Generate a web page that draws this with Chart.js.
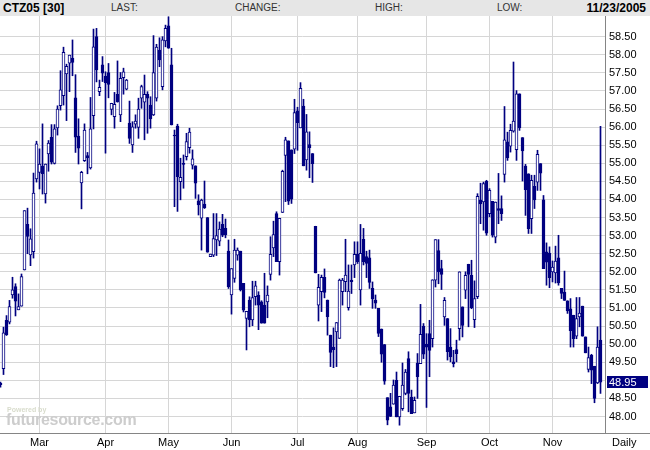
<!DOCTYPE html>
<html><head><meta charset="utf-8">
<script src="https://cdn.jsdelivr.net/npm/chart.js@4/dist/chart.umd.min.js"></script>
<style>
html,body{margin:0;padding:0;background:#fff;}
#wrap{position:relative;width:650px;height:450px;overflow:hidden;font-family:"Liberation Sans",Arial,sans-serif;}
#c{position:absolute;left:0;top:0;}
#hdr{position:absolute;left:0;top:0;width:650px;height:16px;background:#e6e6e6;}
#hdr span{position:absolute;top:0;line-height:16px;white-space:nowrap;}
.lbl{font-size:10px;color:#333;}
.bold{font-size:12px;font-weight:bold;color:#000;}
#daily{position:absolute;left:612px;top:436px;font-size:11px;color:#000;line-height:13px;}
#wm1{position:absolute;left:7px;top:406px;font-size:7px;font-weight:bold;color:#d8dccc;line-height:8px;}
#wm2{position:absolute;left:6px;top:411px;font-size:16px;font-weight:bold;color:#cdcdcd;line-height:18px;letter-spacing:-0.3px;}
</style></head><body>
<div id="wrap">
<canvas id="c" width="650" height="450"></canvas>
<div id="hdr">
<span class="bold" style="left:3px">CTZ05 [30]</span>
<span class="lbl" style="left:111px">LAST:</span>
<span class="lbl" style="left:235px">CHANGE:</span>
<span class="lbl" style="left:375px">HIGH:</span>
<span class="lbl" style="left:497px">LOW:</span>
<span class="bold" style="right:4px">11/23/2005</span>
</div>
<div id="wm1">Powered by</div>
<div id="wm2">futuresource.com</div>
<div id="daily">Daily</div>
</div>
<script>
// Daily OHLC, one entry per trading day (index 0 = Feb 9 2005 ... index 200 = Nov 23 2005)
const openV = [48.92,49.32,50.66,50.61,51.36,51.59,50.95,51.05,52.05,53.31,52.47,52.56,54.57,54.75,54.92,54.15,55.26,55.72,55.00,55.98,
56.59,56.87,57.47,57.77,57.91,56.81,55.75,54.46,55.07,55.21,54.87,56.32,58.50,56.98,57.72,57.41,57.51,56.49,56.29,56.91,
56.34,57.37,57.05,56.11,55.51,56.08,55.99,56.80,56.69,56.91,56.61,56.34,56.80,58.13,57.12,58.38,58.80,57.72,55.78,56.03,
54.49,55.00,55.18,55.43,54.95,54.93,53.96,53.48,53.87,53.50,52.42,52.46,52.88,52.85,53.31,53.20,52.57,51.36,51.82,52.46,
52.57,51.68,50.71,51.22,50.67,51.31,51.36,51.17,51.08,51.17,51.93,52.66,53.61,52.28,53.64,55.22,55.62,55.37,55.39,56.45,
55.98,56.58,55.09,55.52,55.27,53.26,51.08,51.45,51.85,51.22,50.25,49.92,50.34,50.16,51.45,51.73,51.01,51.77,52.19,52.48,
51.50,52.90,52.42,52.39,51.54,51.22,50.99,50.42,49.99,48.52,48.27,48.34,49.00,47.99,48.22,48.64,49.60,48.54,48.10,49.48,
49.46,50.50,50.00,50.29,50.15,51.77,52.59,52.09,50.75,50.71,49.92,49.51,49.85,50.43,51.03,51.49,52.21,51.90,50.68,51.31,
53.98,53.93,54.50,53.61,53.95,52.96,53.75,53.75,54.69,55.59,55.47,55.89,55.38,56.92,55.71,54.92,54.71,53.47,54.36,54.48,
54.99,53.99,52.55,52.52,52.00,51.97,52.39,51.54,51.44,51.20,50.98,50.80,50.22,50.75,51.05,50.20,49.30,49.69,49.39,48.93,
50.11];
const highV = [48.95,50.47,50.79,51.21,51.85,51.67,51.39,51.94,53.69,53.76,53.19,54.73,55.61,55.40,56.09,54.98,55.63,56.07,56.07,56.59,
57.56,58.21,57.74,57.99,58.41,57.45,56.23,54.78,56.09,55.30,56.82,58.71,58.73,57.30,57.95,57.53,57.76,56.66,56.96,57.83,
57.51,57.63,57.32,56.72,56.15,56.34,56.80,57.16,57.44,56.98,56.84,58.53,58.29,58.47,58.50,58.82,59.05,58.18,55.92,56.08,
55.14,55.23,55.83,55.97,55.37,54.93,54.13,54.01,54.51,53.50,52.49,53.61,53.61,53.38,53.59,53.46,52.88,52.09,52.90,52.66,
52.57,51.68,50.91,51.31,51.74,51.74,51.45,51.20,51.96,51.61,52.97,53.40,53.66,53.48,54.81,55.72,55.62,55.37,56.77,56.55,
57.23,56.77,56.35,55.87,55.27,53.26,51.93,51.91,52.08,51.22,50.25,50.45,50.60,51.80,51.82,52.90,52.19,52.19,52.83,52.83,
53.31,53.20,52.57,52.60,51.72,51.36,50.99,50.42,49.99,48.52,48.64,49.01,49.23,48.56,49.48,49.30,49.79,48.73,48.54,49.74,
51.10,50.57,50.29,50.66,51.78,52.89,52.89,52.32,51.29,50.71,50.43,49.83,50.11,52.00,51.03,52.00,52.21,52.32,51.75,54.16,
54.45,54.48,54.53,54.30,53.95,53.93,54.72,54.10,56.57,55.86,56.08,57.80,57.01,56.92,55.71,54.97,54.71,54.67,54.67,55.36,
54.99,54.11,52.80,52.69,52.30,52.71,53.01,51.54,52.02,51.20,51.26,50.80,51.29,51.29,51.05,50.20,49.92,49.72,49.39,50.48,
56.02];
const lowV = [48.81,49.16,50.24,50.56,51.27,50.78,50.95,51.05,52.05,52.50,52.17,52.38,54.48,54.29,54.15,53.90,54.78,54.98,54.98,55.78,
56.47,56.61,56.18,56.98,57.42,55.30,54.98,53.74,55.05,54.71,54.84,55.95,57.25,56.87,57.26,55.28,56.81,56.34,55.97,56.69,
56.15,56.91,57.03,55.55,55.30,55.97,55.69,56.52,55.65,55.83,55.97,56.32,56.72,57.67,57.03,58.22,58.18,56.06,53.80,53.67,
53.99,54.31,55.09,55.28,54.84,54.03,53.57,52.60,53.75,52.54,52.42,52.42,52.45,52.72,52.97,52.94,51.54,50.83,51.71,52.32,
51.47,50.89,49.84,50.48,50.51,51.08,50.40,50.58,50.58,50.73,51.77,52.42,52.28,51.91,53.64,53.94,53.86,53.89,55.27,55.36,
55.98,54.93,54.81,54.60,54.47,51.97,50.64,50.90,51.28,50.25,49.38,49.35,49.38,50.16,51.08,51.45,50.94,51.40,51.84,52.23,
51.08,52.19,51.84,51.54,50.99,50.99,50.21,49.50,48.89,47.77,48.00,48.34,47.99,47.76,48.17,48.60,48.13,48.08,48.10,48.50,
49.46,49.60,48.25,49.10,49.92,51.58,51.67,51.51,50.52,49.56,49.51,49.37,49.51,50.11,50.20,51.26,50.48,50.98,50.46,51.26,
53.33,53.15,53.01,53.52,52.96,52.80,53.33,53.42,54.48,55.08,55.31,55.86,55.08,55.91,54.51,53.56,53.06,53.06,53.75,54.25,
54.25,52.09,51.63,51.56,51.72,51.69,51.63,51.26,51.21,50.85,49.92,49.92,50.15,50.48,50.22,49.76,49.23,48.91,48.38,48.91,
48.64];
const closeV = [48.88,50.31,50.26,51.04,51.50,51.19,51.04,51.87,53.69,52.98,52.91,54.18,55.54,54.98,54.71,54.98,55.56,55.03,55.95,56.50,
57.03,58.07,57.68,57.99,57.79,55.72,55.42,54.75,55.92,55.15,55.95,58.22,57.58,57.10,57.49,57.23,57.18,56.66,56.63,56.70,
57.35,57.53,57.30,55.69,56.01,56.17,56.50,57.12,56.91,56.80,56.23,57.51,58.21,57.86,58.41,58.73,58.18,56.06,55.76,54.63,
54.61,54.97,55.60,55.86,55.12,54.45,53.85,53.98,53.77,52.54,52.49,52.92,53.00,53.18,53.01,53.03,51.59,52.09,52.60,52.60,
51.50,50.94,50.91,50.67,51.29,51.61,51.08,50.58,50.58,51.36,52.48,53.03,52.28,53.48,54.78,55.65,53.95,54.01,56.40,56.12,
57.07,54.93,55.87,55.43,54.99,51.97,51.57,51.85,51.43,50.76,49.77,49.85,50.60,51.77,51.77,51.91,51.47,51.73,52.48,52.28,
52.51,52.28,52.23,51.71,51.25,51.13,50.30,49.72,48.98,47.90,48.00,48.87,47.99,48.56,48.87,49.23,48.64,48.08,48.45,49.10,
50.27,49.72,49.92,49.83,51.78,52.89,52.00,51.93,51.21,49.79,49.65,49.46,49.74,52.00,50.52,51.90,51.93,51.01,51.26,54.09,
53.88,54.44,53.07,54.25,53.01,53.93,53.70,53.61,55.65,55.15,55.91,56.17,56.92,55.98,55.34,54.27,53.19,54.53,53.99,55.25,
54.73,52.09,52.27,51.84,52.13,52.30,51.69,51.40,51.21,50.92,50.37,50.15,50.71,50.86,50.22,49.76,49.63,49.28,48.50,49.92,
48.95];
// Month tick positions (index of first trading day of each month) and labels
const monthIdx = [13, 35, 56, 77, 99, 119, 142, 163, 184];
const monthLabels = ["Mar", "Apr", "May", "Jun", "Jul", "Aug", "Sep", "Oct", "Nov"];
// Price axis ticks
const yTicks = [48.0,48.5,49.0,49.5,50.0,50.5,51.0,51.5,52.0,52.5,53.0,53.5,54.0,54.5,55.0,55.5,56.0,56.5,57.0,57.5,58.0,58.5];
const lastPrice = closeV[closeV.length - 1];

const NAVY = 'rgb(0,0,128)';
const GRID = '#d6d6d6';
const AXIS = '#858585';

const bodyData = openV.map((o, i) => ({x: i, y: [o, closeV[i]]}));
const wickData = openV.map((o, i) => ({x: i, y: [lowV[i], highV[i]]}));

const framePlugin = {
  id: 'frame',
  afterDraw(chart) {
    const c = chart.ctx, a = chart.chartArea;
    c.save();
    c.strokeStyle = AXIS; c.lineWidth = 1;
    c.beginPath();
    c.moveTo(Math.round(a.right) + 0.5, a.top); c.lineTo(Math.round(a.right) + 0.5, Math.round(a.bottom) + 0.5);
    c.moveTo(0, Math.round(a.bottom) + 0.5); c.lineTo(chart.width, Math.round(a.bottom) + 0.5);
    c.stroke();
    const yS = chart.scales.y;
    const py = yS.getPixelForValue(lastPrice);
    c.fillStyle = NAVY;
    c.fillRect(Math.round(a.right) + 2, Math.round(py) - 6, 41, 12);
    c.fillStyle = '#fff';
    c.font = '11px "Liberation Sans", Arial, sans-serif';
    c.textBaseline = 'middle'; c.textAlign = 'left';
    c.fillText(lastPrice.toFixed(2), Math.round(a.right) + 4, Math.round(py) + 0.5);
    c.restore();
  }
};

new Chart(document.getElementById('c').getContext('2d'), {
  type: 'bar',
  data: {
    datasets: [
      {
        label: 'body', data: bodyData, grouped: false, order: 0,
        barThickness: 3, borderWidth: 1, borderSkipped: false,
        borderColor: NAVY,
        backgroundColor: (ctx) => (closeV[ctx.dataIndex] >= openV[ctx.dataIndex] ? '#ffffff' : NAVY)
      },
      {
        label: 'wick', data: wickData, grouped: false, order: 1,
        barThickness: 1, borderWidth: 0, backgroundColor: NAVY
      }
    ]
  },
  options: {
    responsive: false, animation: false,
    layout: {padding: {top: 16, left: 0, right: 0, bottom: 0}},
    plugins: {legend: {display: false}, tooltip: {enabled: false}},
    scales: {
      x: {
        type: 'linear', min: -1 / 6, max: 201.5, offset: false,
        afterBuildTicks: (s) => { s.ticks = monthIdx.map(v => ({value: v})); },
        afterFit: (s) => { s.height = 17; },
        ticks: {
          autoSkip: false, maxRotation: 0, padding: 3, color: '#000',
          font: {family: '"Liberation Sans", Arial, sans-serif', size: 11},
          callback: (v) => { const k = monthIdx.indexOf(v); return k >= 0 ? monthLabels[k] : ''; }
        },
        grid: {color: GRID, drawTicks: false, offset: false},
        border: {display: false}
      },
      y: {
        position: 'right', min: 47.544, max: 59.072,
        afterBuildTicks: (s) => { s.ticks = yTicks.map(v => ({value: v})); },
        afterFit: (s) => { s.width = 45; },
        ticks: {
          padding: 4, color: '#000',
          font: {family: '"Liberation Sans", Arial, sans-serif', size: 11},
          callback: (v) => (Math.abs(v - lastPrice) < 0.2 ? '' : Number(v).toFixed(2))
        },
        grid: {color: GRID, drawTicks: false},
        border: {display: false}
      }
    }
  },
  plugins: [framePlugin]
});
</script>
</body></html>
